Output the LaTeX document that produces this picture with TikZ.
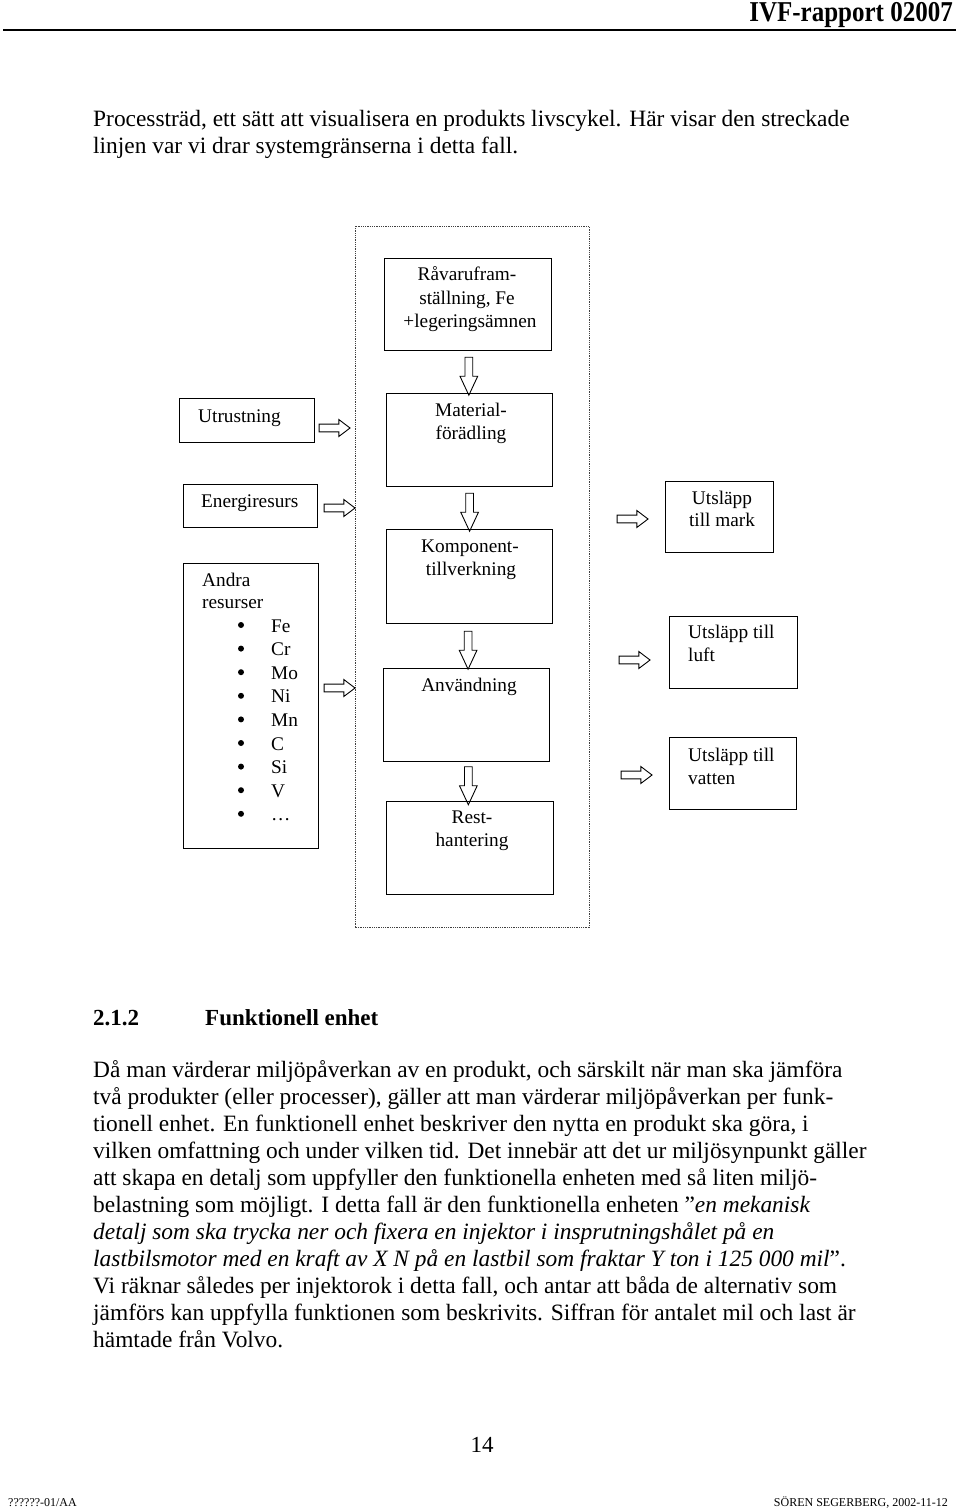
\documentclass[tikz,border=0pt]{standalone}
\usepackage{fontspec}
\setmainfont{Liberation Serif}
\usetikzlibrary{shapes.arrows,calc}

\tikzset{
  box/.style={draw, line width=1.2pt, anchor=north west, inner sep=0},
  txt/.style={inner sep=0, anchor=base west, font=\fontsize{23.4}{27}\selectfont},
  dtxt/.style={inner sep=0, font=\fontsize{19.3}{23}\selectfont},
  rubrik/.style={inner sep=0, anchor=base west, font=\bfseries\fontsize{23}{27}\selectfont},
  downarrow/.style={single arrow, draw, line width=0.9pt, rotate=-90, inner sep=3.4pt,
    single arrow head extend=5pt, single arrow tip angle=50, minimum height=38pt},
  rightarrow/.style={single arrow, draw, line width=0.9pt, inner sep=3.4pt,
    single arrow head extend=4.6pt, single arrow tip angle=74, minimum height=31pt},
  sysgrans/.style={line width=0.8pt, dash pattern=on 0.9pt off 0.9pt, black!75},
}

\begin{document}
\begin{tikzpicture}[x=1pt,y=-1pt]
    \useasboundingbox (0,0) rectangle (960,1510);

    % sidhuvud
    \node[inner sep=0, anchor=base east, yscale=1.15, transform shape,
          font=\bfseries\fontsize{25}{30}\selectfont] (head) at (953,21) {IVF-rapport 02007};
    \draw[line width=2pt] (3,29.5) -- (956,29.5);

    \node[txt] (intro1) at (93,126) {Processträd, ett sätt att visualisera en produkts livscykel. Här visar den streckade};
    \node[txt] (intro2) at (93,153) {linjen var vi drar systemgränserna i detta fall.};

    % systemgräns
    \draw[sysgrans] (355,226) rectangle (589,927);

    % processkedjan
    \node[box, minimum width=167, minimum height=92] (raw) at (384,258) {};
    \node[box, minimum width=166, minimum height=93] (mat) at (386,393) {};
    \node[box, minimum width=166, minimum height=94] (komp) at (386,529) {};
    \node[box, minimum width=166, minimum height=93] (anv) at (383,668) {};
    \node[box, minimum width=167, minimum height=93] (rest) at (386,801) {};

    \node[dtxt, anchor=base] at (467,280) {Råvarufram-};
    \node[dtxt, anchor=base] at (467,304) {ställning, Fe};
    \node[dtxt, anchor=base] at (470,327) {+legeringsämnen};
    \node[dtxt, anchor=base] at (471,416) {Material-};
    \node[dtxt, anchor=base] at (471,439) {förädling};
    \node[dtxt, anchor=base] at (470,552) {Komponent-};
    \node[dtxt, anchor=base] at (471,575) {tillverkning};
    \node[dtxt, anchor=base] at (469,691) {Användning};
    \node[dtxt, anchor=base] at (472,823) {Rest-};
    \node[dtxt, anchor=base] at (472,846) {hantering};

    \node[downarrow] (p1) at ($(raw.south)!0.5!(mat.north)$) {};
    \node[downarrow] (p2) at ($(mat.south)!0.5!(komp.north)$) {};
    \node[downarrow] (p3) at ($(komp.south)!0.5!(anv.north)$) {};
    \node[downarrow] (p4) at ($(anv.south)!0.5!(rest.north)$) {};

    % resurser
    \node[box, minimum width=135, minimum height=44] (utr) at (179,398) {};
    \node[box, minimum width=134, minimum height=43] (ener) at (183,484) {};
    \node[box, minimum width=135, minimum height=285] (andra) at (183,563) {};

    \node[dtxt, anchor=base west] at (198,422) {Utrustning};
    \node[dtxt, anchor=base west] at (201,507) {Energiresurs};
    \node[dtxt, anchor=base west] at (202,586) {Andra};
    \node[dtxt, anchor=base west] at (202,608) {resurser};
    \foreach \el [count=\i from 0] in {Fe,Cr,Mo,Ni,Mn,C,Si,V,{\ldots}} {
        \fill (241,{632+23.6*\i-7}) circle (3);
        \node[dtxt, anchor=base west] at (271,{632+23.6*\i}) {\el};
    }

    \node[rightarrow] (r1) at (332,428) {};
    \node[rightarrow] (r2) at (337,508) {};
    \node[rightarrow] (r3) at (337,688) {};

    % utsläpp
    \node[box, minimum width=108, minimum height=71] (mark) at (665,481) {};
    \node[box, minimum width=128, minimum height=72] (luft) at (669,616) {};
    \node[box, minimum width=127, minimum height=72] (vatten) at (669,737) {};

    \node[dtxt, anchor=base] at (722,504) {Utsläpp};
    \node[dtxt, anchor=base] at (722,526) {till mark};
    \node[dtxt, anchor=base west] at (688,638) {Utsläpp till};
    \node[dtxt, anchor=base west] at (688,661) {luft};
    \node[dtxt, anchor=base west] at (688,761) {Utsläpp till};
    \node[dtxt, anchor=base west] at (688,784) {vatten};

    \node[rightarrow] (u1) at (630,519) {};
    \node[rightarrow] (u2) at (632,660) {};
    \node[rightarrow] (u3) at (634,775) {};

    % avsnitt 2.1.2
    \node[rubrik] (nr) at (93,1025) {2.1.2};
    \node[rubrik] (titel) at (205,1025) {Funktionell enhet};

    \foreach \rad [count=\i from 0] in {
        {Då man värderar miljöpåverkan av en produkt, och särskilt när man ska jämföra},
        {två produkter (eller processer), gäller att man värderar miljöpåverkan per funk-},
        {tionell enhet. En funktionell enhet beskriver den nytta en produkt ska göra, i},
        {vilken omfattning och under vilken tid. Det innebär att det ur miljösynpunkt gäller},
        {att skapa en detalj som uppfyller den funktionella enheten med så liten miljö-},
        {belastning som möjligt. I detta fall är den funktionella enheten ”\textit{en mekanisk}},
        {\textit{detalj som ska trycka ner och fixera en injektor i insprutningshålet på en}},
        {\textit{lastbilsmotor med en kraft av X N på en lastbil som fraktar Y ton i 125 000 mil}”.},
        {Vi räknar således per injektorok i detta fall, och antar att båda de alternativ som},
        {jämförs kan uppfylla funktionen som beskrivits. Siffran för antalet mil och last är},
        {hämtade från Volvo.}} {
        \node[txt] at (93,{1077+27*\i}) {\rad};
    }

    % sidfot
    \node[inner sep=0, anchor=base, font=\fontsize{23}{27}\selectfont] (sida) at (482,1452) {14};
    \node[inner sep=0, anchor=base west, font=\fontsize{12}{14}\selectfont] (fot1) at (8,1506) {??????-01/AA};
    \node[inner sep=0, anchor=base east, font=\fontsize{12}{14}\selectfont] (fot2) at (948,1506) {SÖREN SEGERBERG, 2002-11-12};
\end{tikzpicture}
\end{document}
